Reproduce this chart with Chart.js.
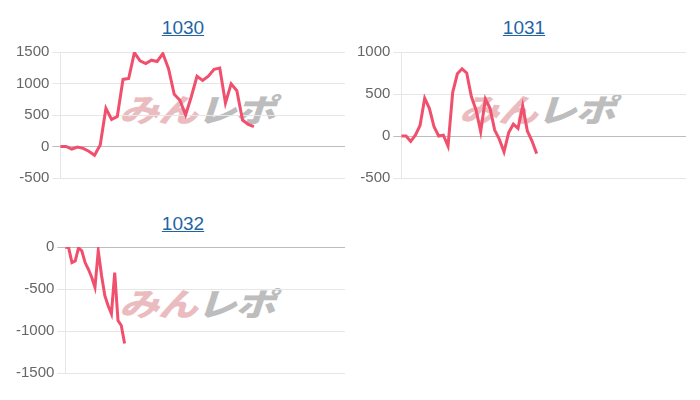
<!DOCTYPE html>
<html>
<head>
<meta charset="utf-8">
<script src="https://cdn.jsdelivr.net/npm/chart.js@4/dist/chart.umd.min.js"></script>
<style>
  html, body { margin: 0; padding: 0; background: #fff; }
  body { width: 700px; height: 400px; position: relative; overflow: hidden; font-family: "Liberation Sans", Arial, sans-serif; }
  .title { position: absolute; width: 336px; text-align: center; font-size: 19px; line-height: 22px; }
  .title a { color: #1f65a6; text-decoration: underline; }
  .box { position: absolute; width: 332px; height: 150px; }
  .mark { position: absolute; font-family: "Noto Sans CJK JP", sans-serif; font-weight: 900; font-size: 32px; line-height: 32px;
          white-space: nowrap; transform: translate(-50%, -50%) skewX(-18deg) scaleX(1.25); letter-spacing: -1px; }
  .mark .a { color: #ebbcbf; }
  .mark .b { color: #bdbdbd; }
</style>
</head>
<body>

<!-- titles -->
<div class="title" style="left:15px; top:17px;"><a href="#">1030</a></div>
<div class="title" style="left:356px; top:17px;"><a href="#">1031</a></div>
<div class="title" style="left:15px; top:213px;"><a href="#">1032</a></div>

<!-- watermarks (behind the canvases) -->
<div class="mark" style="left:201px; top:108px;"><span class="a">みん</span><span class="b">レポ</span></div>
<div class="mark" style="left:541px; top:108px;"><span class="a">みん</span><span class="b">レポ</span></div>
<div class="mark" style="left:201px; top:302px;"><span class="a">みん</span><span class="b">レポ</span></div>

<div class="box" style="left:13px; top:40px;"><canvas id="c1030"></canvas></div>
<div class="box" style="left:354px; top:40px;"><canvas id="c1031"></canvas></div>
<div class="box" style="left:13px; top:235px;"><canvas id="c1032"></canvas></div>

<script>
/* --- data --- */
const values1030 = [0, 0, -40, -10, -30, -75, -140, 25, 605, 430, 475, 1065, 1080, 1490, 1360, 1315, 1370, 1350,
                    1475, 1235, 830, 735, 500, 790, 1115, 1050, 1115, 1225, 1245, 690, 995, 885, 420, 350, 315];
const values1031 = [0, 0, -65, 10, 125, 450, 330, 110, 0, 10, -120, 520, 740, 800, 750, 470, 310, 50,
                    440, 330, 70, -40, -190, 40, 140, 90, 360, 60, -60, -210];
const values1032 = [0, -10, -185, -165, -10, -45, -185, -265, -360, -480, -45, -340, -580, -700, -795, -305,
                    -875, -935, -1150];

/* x slots per chart (no x labels are shown) */
const labels1030 = Array.from({length: 51}, (_, i) => String(i + 1));
const labels1031 = Array.from({length: 62}, (_, i) => String(i + 1));
const labels1032 = Array.from({length: 86}, (_, i) => String(i + 1));

/* y ranges */
const yRange1030 = [-500, 1500];
const yRange1031 = [-500, 1000];
const yRange1032 = [-1500, 0];

const LINE_COLOR = "#f0506e";

function makeChart(id, labels, data, range) {
  const ctx = document.getElementById(id).getContext("2d");
  return new Chart(ctx, {
    type: "line",
    data: {
      labels,
      datasets: [{
        data,
        borderColor: LINE_COLOR,
        backgroundColor: LINE_COLOR,
        borderWidth: 3,
        pointRadius: 0,
        tension: 0,
        fill: false
      }]
    },
    options: {
      responsive: true,
      maintainAspectRatio: false,
      animation: false,
      layout: { padding: 0 },
      plugins: { legend: { display: false }, tooltip: { enabled: false } },
      scales: {
        x: { display: false },
        y: {
          min: range[0], max: range[1],
          ticks: {
            stepSize: 500, color: "#666",
            font: { size: 15, family: "'Liberation Sans', Arial, sans-serif" },
            callback: v => String(v)
          },
          grid: {
            color: c => c.tick && c.tick.value === 0 ? "#bdbdbd" : "#e6e6e6",
            lineWidth: 1
          },
          border: { color: "#e6e6e6" }
        }
      }
    }
  });
}

makeChart("c1030", labels1030, values1030, yRange1030);
makeChart("c1031", labels1031, values1031, yRange1031);
makeChart("c1032", labels1032, values1032, yRange1032);
</script>
</body>
</html>
